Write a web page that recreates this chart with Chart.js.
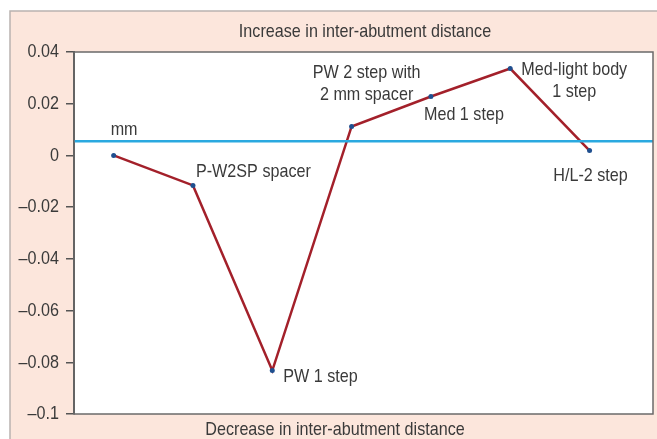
<!DOCTYPE html>
<html>
<head>
<meta charset="utf-8">
<script src="https://cdn.jsdelivr.net/npm/chart.js@4.4.0/dist/chart.umd.min.js"></script>
<style>
  html, body { margin: 0; padding: 0; background: #fff; }
  #wrap { position: relative; width: 657px; height: 439px; }
</style>
</head>
<body>
<div id="wrap"><canvas id="grafico"></canvas></div>
<script>
// datos
const etapas = ["mm", "P-W2SP spacer", "PW 1 step", "PW 2 step with\n2 mm spacer", "Med 1 step", "Med-light body\n1 step", "H/L-2 step"];
const valores = [0, -0.0116, -0.0832, 0.0112, 0.0228, 0.0336, 0.0019];
const lineaReferencia = 0.0055;
const ticksY = [0.04, 0.02, 0, -0.02, -0.04, -0.06, -0.08, -0.1];
const tituloArriba = "Increase in inter-abutment distance";
const tituloAbajo = "Decrease in inter-abutment distance";

// posicion de cada etiqueta respecto a su punto (dx, dy, alineacion)
const offsets = [
    [-3, -26, "left"],
    [3, -14, "left"],
    [11, 6, "left"],
    [15, -54, "center"],
    [33, 18, "center"],
    [64, 1, "center"],
    [1, 25, "center"]
];

const FUENTE = '"Liberation Sans", Arial, sans-serif';
const TEXTO = "#3a3a3a";
const ESTRECHO = 0.85; // la fuente original es condensada

const puntos = valores.map((v, i) => ({ x: i, y: v }));

function etiquetaY(v) {
    return v === 0 ? "0" : (v < 0 ? "\u2013" : "") + parseFloat(Math.abs(v).toFixed(2));
}

function texto(ctx, t, x, y, al) {
    ctx.save();
    ctx.translate(x, y);
    ctx.scale(ESTRECHO, 1);
    ctx.textAlign = al;
    ctx.fillText(t, 0, 0);
    ctx.restore();
}

const fondoPlugin = {
    id: "fondo",
    beforeDraw(chart) {
        const ctx = chart.ctx;
        const a = chart.chartArea;
        ctx.save();
        ctx.fillStyle = "#fce6dc";
        ctx.fillRect(10, 11, chart.width - 10, chart.height - 11);
        ctx.strokeStyle = "#b9b3b0";
        ctx.lineWidth = 1.5;
        ctx.beginPath();
        ctx.moveTo(10, chart.height);
        ctx.lineTo(10, 11);
        ctx.lineTo(chart.width, 11);
        ctx.stroke();
        ctx.fillStyle = "#ffffff";
        ctx.fillRect(a.left, a.top, a.right - a.left, a.bottom - a.top);
        ctx.restore();
    },
    afterDatasetsDraw(chart) {
        const ctx = chart.ctx;
        const a = chart.chartArea;
        ctx.save();
        ctx.strokeStyle = "#6a6a6a";
        ctx.lineWidth = 1.5;
        ctx.strokeRect(a.left, a.top, a.right - a.left, a.bottom - a.top);

        ctx.fillStyle = TEXTO;
        ctx.font = "19px " + FUENTE;
        ctx.textBaseline = "middle";
        const meta = chart.getDatasetMeta(1);
        meta.data.forEach((p, i) => {
            const [dx, dy, al] = offsets[i];
            etapas[i].split("\n").forEach((linea, j) => {
                texto(ctx, linea, p.x + dx, p.y + dy + j * 22, al);
            });
        });

        // etiquetas del eje y, condensadas
        const sy = chart.scales.y;
        sy.ticks.forEach((t, i) => {
            texto(ctx, etiquetaY(t.value), 59, sy.getPixelForTick(i), "right");
        });

        texto(ctx, tituloArriba, 365, 32, "center");
        texto(ctx, tituloAbajo, 335, 430, "center");
        ctx.restore();
    }
};

new Chart(document.getElementById("grafico"), {
    type: "line",
    data: {
        datasets: [
            {
                data: [{ x: -0.5, y: lineaReferencia }, { x: 6.8, y: lineaReferencia }],
                borderColor: "#2aa9e0",
                borderWidth: 2.5,
                pointRadius: 0
            },
            {
                data: puntos,
                borderColor: "#a3202a",
                borderWidth: 2.5,
                pointRadius: 2.5,
                pointBackgroundColor: "#1f4f8f",
                pointBorderWidth: 0
            }
        ]
    },
    options: {
        responsive: true,
        maintainAspectRatio: false,
        animation: false,
        layout: { padding: { top: 52, right: 4, bottom: 25, left: 0 } },
        plugins: { legend: { display: false }, tooltip: { enabled: false } },
        scales: {
            x: {
                type: "linear",
                min: -0.5,
                max: 6.8,
                display: false
            },
            y: {
                min: -0.1,
                max: 0.04,
                afterFit(s) { s.width = 74; },
                afterBuildTicks(s) { s.ticks = ticksY.map(v => ({ value: v })); },
                border: { display: true, color: "#555", width: 2 },
                grid: { drawOnChartArea: false, tickLength: 8, color: "#555", lineWidth: 1.5 },
                ticks: {
                    color: "rgba(0,0,0,0)",
                    padding: 6,
                    font: { family: FUENTE, size: 19 },
                    callback: v => etiquetaY(v)
                }
            }
        }
    },
    plugins: [fondoPlugin]
});
</script>
</body>
</html>
